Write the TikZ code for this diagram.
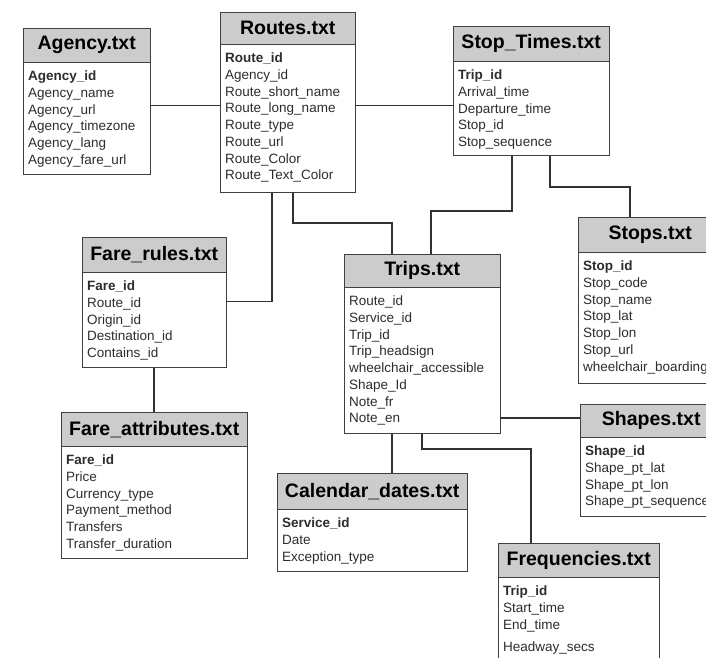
\documentclass[tikz,border=0pt]{standalone}
\usepackage{fontspec}
\setmainfont{Liberation Sans}
\usepackage{tikz}
\usepackage{xcolor}
\definecolor{headgray}{RGB}{204,204,204}
\definecolor{linegray}{RGB}{64,64,64}
\definecolor{fieldgray}{RGB}{45,45,45}
\definecolor{linkgray}{RGB}{50,50,50}

\begin{document}
\begin{tikzpicture}[x=1pt,y=-1pt,
	tblhead/.style={draw=linegray, fill=headgray, anchor=north west, inner sep=0pt, minimum height=34pt, font=\fontsize{19.5}{22}\selectfont\bfseries},
	tblbox/.style={draw=linegray, fill=white, anchor=north west, inner sep=0pt},
	tblfields/.style={anchor=north west, align=left, inner sep=0pt, text=fieldgray, xshift=5pt, yshift=-8.5pt, font=\fontsize{13.5}{16.7}\selectfont},
	tbllink/.style={draw=linkgray, line width=1.6pt}]
	\useasboundingbox[fill=white] (0,0) rectangle (706,657);
	% Left column
	\path (23,28) node[tblhead, minimum width=127pt] (agencyHead) {Agency.txt};
	\path (agencyHead.south west) node[tblbox, minimum width=127pt, minimum height=112pt] (agency) {};
	\path (agency.north west) node[tblfields] (agencyTxt) {\textbf{Agency\_id}\\Agency\_name\\Agency\_url\\Agency\_timezone\\Agency\_lang\\Agency\_fare\_url};
	\path (82,237) node[tblhead, minimum width=144pt, minimum height=35pt] (farerulesHead) {Fare\_rules.txt};
	\path (farerulesHead.south west) node[tblbox, minimum width=144pt, minimum height=95pt] (farerules) {};
	\path (farerules.north west) node[tblfields] (farerulesTxt) {\textbf{Fare\_id}\\Route\_id\\Origin\_id\\Destination\_id\\Contains\_id};
	\path (61,412) node[tblhead, minimum width=186pt] (fareattrHead) {Fare\_attributes.txt};
	\path (fareattrHead.south west) node[tblbox, minimum width=186pt, minimum height=112pt] (fareattr) {};
	\path (fareattr.north west) node[tblfields] (fareattrTxt) {\textbf{Fare\_id}\\Price\\Currency\_type\\Payment\_method\\Transfers\\Transfer\_duration};
	% Middle column
	\path (220,12) node[tblhead, minimum width=135pt, minimum height=32pt] (routesHead) {Routes.txt};
	\path (routesHead.south west) node[tblbox, minimum width=135pt, minimum height=148pt] (routes) {};
	\path (routes.north west) node[tblfields] (routesTxt) {\textbf{Route\_id}\\Agency\_id\\Route\_short\_name\\Route\_long\_name\\Route\_type\\Route\_url\\Route\_Color\\Route\_Text\_Color};
	\path (344,254) node[tblhead, minimum width=156pt, minimum height=33pt] (tripsHead) {Trips.txt};
	\path (tripsHead.south west) node[tblbox, minimum width=156pt, minimum height=146pt] (trips) {};
	\path (trips.north west) node[tblfields] (tripsTxt) {Route\_id\\Service\_id\\Trip\_id\\Trip\_headsign\\wheelchair\_accessible\\Shape\_Id\\Note\_fr\\Note\_en};
	\path (277,473) node[tblhead, minimum width=190pt, minimum height=36pt] (calendarHead) {Calendar\_dates.txt};
	\path (calendarHead.south west) node[tblbox, minimum width=190pt, minimum height=62pt] (calendar) {};
	\path (calendar.north west) node[tblfields] (calendarTxt) {\textbf{Service\_id}\\Date\\Exception\_type};
	% Right column
	\path (453,26) node[tblhead, minimum width=156pt, minimum height=35pt] (stoptimesHead) {Stop\_Times.txt};
	\path (stoptimesHead.south west) node[tblbox, minimum width=156pt, minimum height=94pt] (stoptimes) {};
	\path (stoptimes.north west) node[tblfields] (stoptimesTxt) {\textbf{Trip\_id}\\Arrival\_time\\Departure\_time\\Stop\_id\\Stop\_sequence};
	\path (578,217) node[tblhead, minimum width=144pt, minimum height=35pt] (stopsHead) {Stops.txt};
	\path (stopsHead.south west) node[tblbox, minimum width=144pt, minimum height=131pt] (stops) {};
	\path (stops.north west) node[tblfields] (stopsTxt) {\textbf{Stop\_id}\\Stop\_code\\Stop\_name\\Stop\_lat\\Stop\_lon\\Stop\_url\\wheelchair\_boarding};
	\path (580,404) node[tblhead, minimum width=142pt, minimum height=33pt] (shapesHead) {Shapes.txt};
	\path (shapesHead.south west) node[tblbox, minimum width=142pt, minimum height=79pt] (shapes) {};
	\path (shapes.north west) node[tblfields] (shapesTxt) {\textbf{Shape\_id}\\Shape\_pt\_lat\\Shape\_pt\_lon\\Shape\_pt\_sequence};
	\path (498,543) node[tblhead, minimum width=161pt] (freqHead) {Frequencies.txt};
	\path (freqHead.south west) node[tblbox, minimum width=161pt, minimum height=95pt] (freq) {};
	\path (freq.north west) node[tblfields] (freqTxt) {\textbf{Trip\_id}\\Start\_time\\End\_time\\[6pt]Headway\_secs};
	% Links
	\draw[tbllink] ([yshift=13pt]agency.east) coordinate (a1) -- (a1 -| routes.west);
	\draw[tbllink] ([yshift=3pt]stoptimes.west) coordinate (s1) -- (s1 -| routes.east);
	\draw[tbllink] ([xshift=-15.5pt]routes.south) |- ([yshift=18.5pt]farerules.east);
	\draw[tbllink] ([xshift=5.5pt]routes.south) -- ++(0,30) -| ([xshift=-30pt]tripsHead.north);
	\draw[tbllink] ([xshift=-19pt]stoptimes.south) -- ++(0,55) -| ([xshift=9pt]tripsHead.north);
	\draw[tbllink] ([xshift=19pt]stoptimes.south) -- ++(0,31) -| ([xshift=52pt]stopsHead.north west);
	\draw[tbllink] ([yshift=2.5pt]shapesHead.west) coordinate (h1) -- (h1 -| trips.east);
	\draw[tbllink] ([xshift=-30pt]trips.south) coordinate (c1) -- (c1 |- calendarHead.north);
	\draw[tbllink] (trips.south) -- ++(0,15) -| ([xshift=33pt]freqHead.north west);
	\draw[tbllink] (farerules.south) -- (farerules.south |- fareattrHead.north);
\end{tikzpicture}
\end{document}
